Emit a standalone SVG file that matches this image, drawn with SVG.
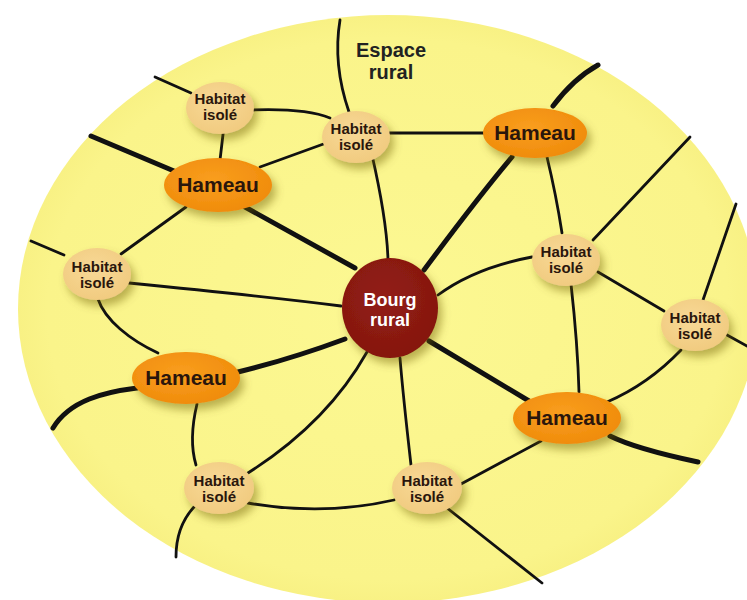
<svg xmlns="http://www.w3.org/2000/svg" width="747" height="600" viewBox="0 0 747 600">
<defs>
<radialGradient id="bg" cx="50%" cy="50%" r="50%">
<stop offset="0%" stop-color="#FCF892"/>
<stop offset="92%" stop-color="#FAF48A"/>
<stop offset="100%" stop-color="#F8F184"/>
</radialGradient>
<radialGradient id="gHam" cx="45%" cy="40%" r="60%">
<stop offset="0%" stop-color="#F99E1E"/>
<stop offset="100%" stop-color="#F08C0C"/>
</radialGradient>
<radialGradient id="gHab" cx="45%" cy="40%" r="60%">
<stop offset="0%" stop-color="#F8D996"/>
<stop offset="100%" stop-color="#F1CB80"/>
</radialGradient>
<radialGradient id="gBourg" cx="45%" cy="40%" r="60%">
<stop offset="0%" stop-color="#921E15"/>
<stop offset="100%" stop-color="#86170F"/>
</radialGradient>
<filter id="sh" x="-40%" y="-40%" width="190%" height="200%">
<feDropShadow dx="4" dy="6" stdDeviation="4" flood-color="#6B5A00" flood-opacity="0.45"/>
</filter>
</defs>
<style>
.thin{fill:none;stroke:#111;stroke-width:2.8;stroke-linecap:round}
.thick{fill:none;stroke:#111;stroke-width:5;stroke-linecap:round}
.ham{fill:url(#gHam);filter:url(#sh)}
.hab{fill:url(#gHab);filter:url(#sh)}
.bourg{fill:url(#gBourg);filter:url(#sh)}
.tHam{font-family:"Liberation Sans",Arial,sans-serif;font-weight:bold;font-size:21px;fill:#2A160C;text-anchor:middle}
.tHab{font-family:"Liberation Sans",Arial,sans-serif;font-weight:bold;font-size:15px;fill:#2A160C;text-anchor:middle}
.tBourg{font-family:"Liberation Sans",Arial,sans-serif;font-weight:bold;font-size:18px;fill:#FFFFFF;text-anchor:middle}
.tEsp{font-family:"Liberation Sans",Arial,sans-serif;font-weight:bold;font-size:20px;fill:#222;text-anchor:middle}
</style>
<rect width="747" height="600" fill="#FFFFFF"/>
<ellipse cx="388" cy="309" rx="370" ry="294" fill="url(#bg)"/>
<g id="label">
<text class="tEsp" x="391" y="57">Espace</text>
<text class="tEsp" x="391" y="79">rural</text>
</g>
<g id="connectors">
<path class="thin" d="M340,20 C335,50 338,80 349,112"/>
<path class="thin" d="M155,77 L191,93"/>
<path class="thin" d="M252,110 C280,109 310,110 330,118"/>
<path class="thin" d="M224,126 L220,160"/>
<path class="thin" d="M329,142 L260,167"/>
<path class="thin" d="M390,133 L485,133"/>
<path class="thin" d="M372,155 C380,190 387,225 388,260"/>
<path class="thick" d="M553,106 C565,90 580,75 598,65"/>
<path class="thick" d="M512,157 C480,195 450,235 424,270"/>
<path class="thin" d="M547,157 C553,182 558,207 562,233"/>
<path class="thin" d="M593,240 L690,137"/>
<path class="thin" d="M736,204 L703,300"/>
<path class="thin" d="M532,257 C500,263 465,275 438,295"/>
<path class="thin" d="M598,272 L664,311"/>
<path class="thin" d="M571,284 C575,320 578,355 579,392"/>
<path class="thin" d="M727,335 L747,346"/>
<path class="thin" d="M681,350 C660,372 635,390 607,402"/>
<path class="thick" d="M610,436 C630,446 665,455 698,462"/>
<path class="thin" d="M541,441 L461,484"/>
<path class="thick" d="M429,341 L529,401"/>
<path class="thin" d="M400,358 C403,395 407,430 411,465"/>
<path class="thin" d="M367,352 C340,400 300,440 248,473"/>
<path class="thick" d="M345,339 C310,352 275,363 238,372"/>
<path class="thin" d="M129,283 C200,290 270,297 341,306"/>
<path class="thick" d="M245,207 L355,268"/>
<path class="thick" d="M91,136 L174,171"/>
<path class="thin" d="M186,207 L121,254"/>
<path class="thin" d="M31,241 L64,255"/>
<path class="thin" d="M98,299 C105,320 130,340 158,353"/>
<path class="thick" d="M137,388 C105,392 70,400 53,428"/>
<path class="thin" d="M197,404 C192,425 190,445 196,465"/>
<path class="thin" d="M194,507 C182,520 176,538 176,557"/>
<path class="thin" d="M248,503 C300,512 350,510 394,500"/>
<path class="thin" d="M447,508 L542,583"/>
</g>
<g id="bourg">
<ellipse class="bourg" cx="390" cy="308" rx="48" ry="50"/>
<text class="tBourg" x="390" y="306">Bourg</text>
<text class="tBourg" x="390" y="326">rural</text>
</g>
<g id="hameau-tr">
<ellipse class="ham" cx="535" cy="133" rx="52" ry="25"/>
<text class="tHam" x="535" y="140">Hameau</text>
</g>
<g id="hameau-lu">
<ellipse class="ham" cx="218" cy="185" rx="54" ry="27"/>
<text class="tHam" x="218" y="192">Hameau</text>
</g>
<g id="hameau-ll">
<ellipse class="ham" cx="186" cy="378" rx="54" ry="26"/>
<text class="tHam" x="186" y="385">Hameau</text>
</g>
<g id="hameau-rl">
<ellipse class="ham" cx="567" cy="418" rx="54" ry="26"/>
<text class="tHam" x="567" y="425">Hameau</text>
</g>
<g id="habitat-1">
<ellipse class="hab" cx="220" cy="108" rx="34" ry="26"/>
<text class="tHab" x="220" y="104">Habitat</text>
<text class="tHab" x="220" y="120">isolé</text>
</g>
<g id="habitat-2">
<ellipse class="hab" cx="356" cy="137" rx="34" ry="26"/>
<text class="tHab" x="356" y="134">Habitat</text>
<text class="tHab" x="356" y="150">isolé</text>
</g>
<g id="habitat-left">
<ellipse class="hab" cx="97" cy="274" rx="34" ry="26"/>
<text class="tHab" x="97" y="272">Habitat</text>
<text class="tHab" x="97" y="288">isolé</text>
</g>
<g id="habitat-right">
<ellipse class="hab" cx="566" cy="260" rx="34" ry="26"/>
<text class="tHab" x="566" y="257">Habitat</text>
<text class="tHab" x="566" y="273">isolé</text>
</g>
<g id="habitat-far-right">
<ellipse class="hab" cx="695" cy="325" rx="34" ry="26"/>
<text class="tHab" x="695" y="323">Habitat</text>
<text class="tHab" x="695" y="339">isolé</text>
</g>
<g id="habitat-bl">
<ellipse class="hab" cx="219" cy="488" rx="35" ry="26"/>
<text class="tHab" x="219" y="486">Habitat</text>
<text class="tHab" x="219" y="502">isolé</text>
</g>
<g id="habitat-bm">
<ellipse class="hab" cx="427" cy="488" rx="35" ry="26"/>
<text class="tHab" x="427" y="486">Habitat</text>
<text class="tHab" x="427" y="502">isolé</text>
</g>
</svg>
